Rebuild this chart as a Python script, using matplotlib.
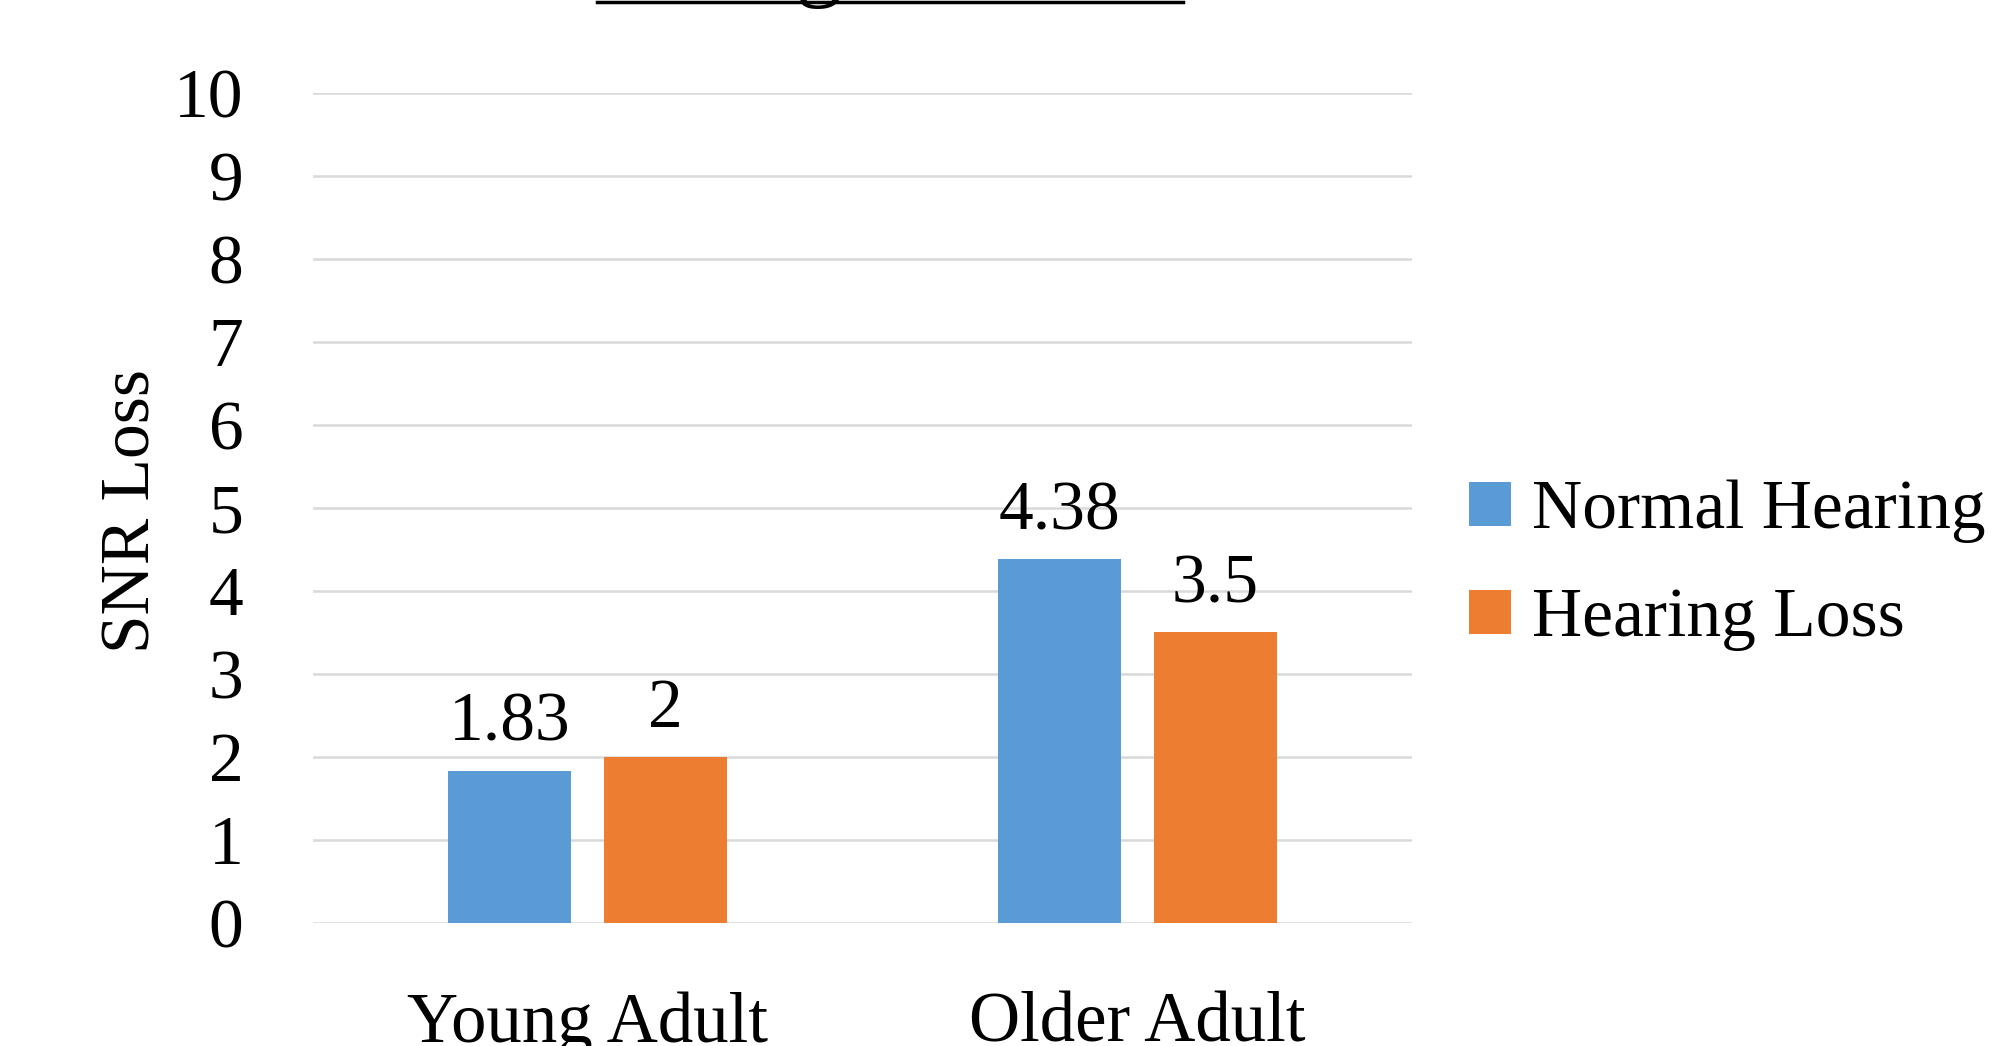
import matplotlib
matplotlib.use("Agg")
import matplotlib.pyplot as plt
import numpy as np
from matplotlib.lines import Line2D

plt.rcParams['font.family'] = ['Liberation Serif', 'DejaVu Serif']

categories = ["Young Adult", "Older Adult"]
series_names = ["Normal Hearing", "Hearing Loss"]
normal_hearing = [1.83, 4.38]
hearing_loss = [2, 3.5]
value_labels_nh = ["1.83", "4.38"]
value_labels_hl = ["2", "3.5"]
yticks = list(range(0, 11))
title = "Young vs Older"

blue = "#5B9BD5"
orange = "#ED7D31"
fs = 50

fig = plt.figure(figsize=(20.02, 10.46), dpi=100)
ax = fig.add_axes([0.1563, 0.1176, 0.549, 0.7935])

x = np.arange(len(categories))
w = 0.224
off = 0.142
b1 = ax.bar(x - off, normal_hearing, w, color=blue, label=series_names[0], zorder=3)
b2 = ax.bar(x + off, hearing_loss, w, color=orange, label=series_names[1], zorder=3)

ax.bar_label(b1, labels=value_labels_nh, padding=11, fontsize=fs)
ax.bar_label(b2, labels=value_labels_hl, padding=11, fontsize=fs)

ax.set_xlim(-0.5, 1.5)
ax.set_ylim(0, 10)
ax.set_yticks(yticks)
ax.set_xticks(x)
ax.set_xticklabels(categories, fontsize=fs + 1)
ax.tick_params(axis='y', length=0, pad=50, labelsize=fs)
ax.tick_params(axis='x', length=0, pad=49)
ax.grid(axis='y', color="#d9d9d9", linewidth=1.8, zorder=0)
for s in ax.spines.values():
    s.set_visible(False)

ax.set_ylabel("SNR Loss", fontsize=fs)
ax.yaxis.set_label_coords(-0.135, 0.496)

fig.legend(handles=[b1, b2], loc='center left', bbox_to_anchor=(0.734, 0.4595),
           frameon=False, fontsize=fs, handlelength=0.6, handleheight=0.6,
           handletextpad=0.3, labelspacing=0.64, borderpad=0, borderaxespad=0)

# title sits mostly above the visible canvas, only the underline shows
fig.text(0.4446, 1 + 10 / 1046, title, fontsize=66, ha='center', va='baseline')
fig.add_artist(Line2D([597 / 2002, 1183 / 2002], [1 - 1.5 / 1046] * 2,
                      color='black', linewidth=2.5, transform=fig.transFigure))

fig.savefig("out.png", dpi=100)
